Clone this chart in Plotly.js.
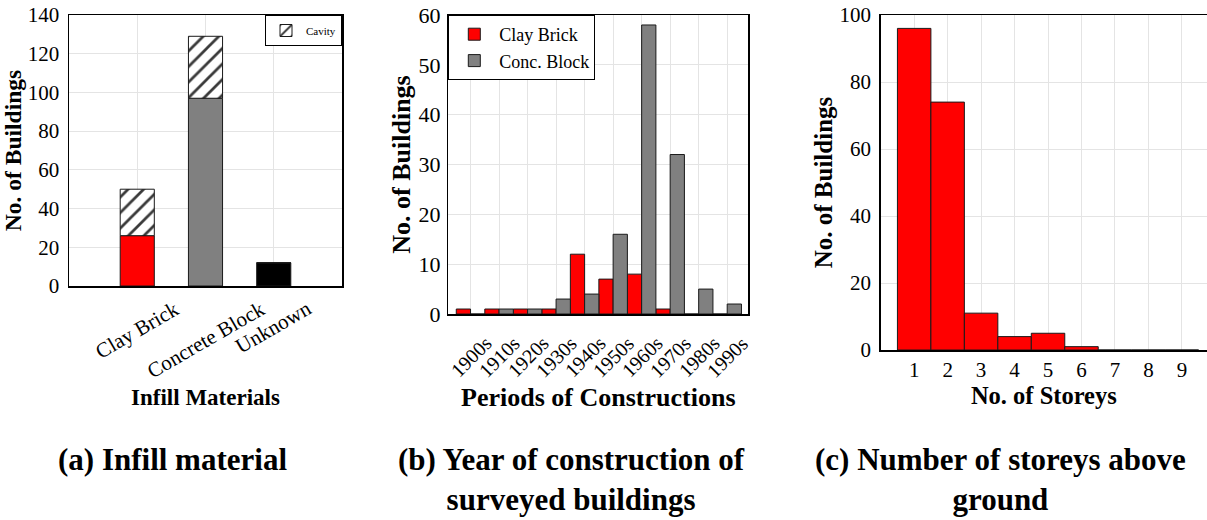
<!DOCTYPE html>
<html>
<head>
<meta charset="utf-8">
<script src="https://cdn.plot.ly/plotly-3.0.1.min.js"></script>
<style>
html,body{margin:0;padding:0;background:#ffffff;overflow:hidden}
#chart{width:1207px;height:520px}
</style>
</head>
<body>
<div id="chart"></div>
<script>
// ---------- Panel (a): infill material ----------
const infillCategories = ['Clay Brick', 'Concrete Block', 'Unknown'];
const infillSolid = [26, 97, 12];
const infillCavity = [24, 32, 0];
const infillColors = ['#ff0000', '#808080', '#000000'];
const cavityName = 'Cavity';

// ---------- Panel (b): period of construction ----------
const periods = ['1900s', '1910s', '1920s', '1930s', '1940s', '1950s', '1960s', '1970s', '1980s', '1990s'];
const clayBrickByPeriod = [1, 1, 1, 1, 12, 7, 8, 1, 0, 0];
const concBlockByPeriod = [0, 1, 1, 3, 4, 16, 58, 32, 5, 2];
const periodSeriesNames = ['Clay Brick', 'Conc. Block'];

// ---------- Panel (c): number of storeys ----------
const storeys = [1, 2, 3, 4, 5, 6, 7, 8, 9];
const buildingsByStoreys = [96, 74, 11, 4, 5, 1, 0, 0, 0];

// ---------- Captions ----------
const captions = [
  '(a) Infill material',
  '(b) Year of construction of<br>surveyed buildings',
  '(c) Number of storeys above<br>ground'
];

const FONT = 'Liberation Serif, "Times New Roman", Times, serif';
const W = 1207, H = 520;
const px = v => v / W;
const py = v => 1 - v / H;
const edge = {color: '#1a1a1a', width: 1};

const traces = [
  {
    type: 'bar', x: infillCategories, y: infillSolid, xaxis: 'x', yaxis: 'y',
    width: 0.5, offset: -0.25, showlegend: false,
    marker: {color: infillColors, line: edge}
  },
  {
    type: 'bar', x: infillCategories, y: infillCavity, base: infillSolid, xaxis: 'x', yaxis: 'y',
    width: 0.5, offset: -0.25, name: cavityName, legend: 'legend2',
    marker: {color: '#ffffff', line: edge,
      pattern: {shape: '/', fgcolor: '#3a3a3a', bgcolor: '#ffffff', size: 11, solidity: 0.25}}
  },
  {
    type: 'bar', x: periods, y: clayBrickByPeriod, xaxis: 'x2', yaxis: 'y2',
    width: 0.5, offset: -0.5, name: periodSeriesNames[0], legend: 'legend',
    marker: {color: '#ff0000', line: edge}
  },
  {
    type: 'bar', x: periods, y: concBlockByPeriod, xaxis: 'x2', yaxis: 'y2',
    width: 0.5, offset: 0, name: periodSeriesNames[1], legend: 'legend',
    marker: {color: '#808080', line: edge}
  },
  {
    type: 'bar', x: storeys, y: buildingsByStoreys, xaxis: 'x3', yaxis: 'y3',
    width: 1, offset: -0.5, showlegend: false,
    marker: {color: '#ff0000', line: edge}
  }
];

function axisBase(extra) {
  return Object.assign({
    showline: true, linecolor: '#000000', linewidth: 1.5, mirror: true,
    showgrid: true, gridcolor: '#e4e4e4', gridwidth: 1,
    zeroline: false, ticks: '', ticklabelstandoff: 4,
    tickfont: {family: FONT, size: 21, color: '#000000'},
    fixedrange: true
  }, extra);
}
function boldTitle(text, size, standoff) {
  return {text: text, font: {family: FONT, size: size, color: '#000000', weight: 'bold'}, standoff: standoff};
}

const annotations = [];
infillCategories.forEach(c => annotations.push({
  xref: 'x', yref: 'y domain', x: c, y: -0.028, text: c, textangle: -30,
  xanchor: 'center', yanchor: 'top', showarrow: false,
  font: {family: FONT, size: 21, color: '#000000'}
}));
periods.forEach(p => annotations.push({
  xref: 'x2', yref: 'y2 domain', x: p, y: -0.05, text: p, textangle: -45,
  xanchor: 'center', yanchor: 'top', showarrow: false,
  font: {family: FONT, size: 20, color: '#000000'}
}));
const captionX = [172, 571, 1000];
captions.forEach((t, i) => annotations.push({
  xref: 'paper', yref: 'paper', x: px(captionX[i]), y: py(441), text: t,
  xanchor: 'center', yanchor: 'top', align: 'center', showarrow: false, borderpad: 0,
  font: {family: FONT, size: 31, color: '#000000', weight: 'bold'}
}));

const layout = {
  width: W, height: H,
  margin: {l: 0, r: 0, t: 0, b: 0, pad: 0},
  paper_bgcolor: '#ffffff', plot_bgcolor: '#ffffff',
  font: {family: FONT, color: '#000000'},
  barmode: 'overlay', bargap: 0,
  xaxis: axisBase({domain: [px(69), px(342)], anchor: 'y', type: 'category', range: [-1, 3],
    showticklabels: false, title: boldTitle('Infill Materials', 23, 102)}),
  yaxis: axisBase({domain: [py(286), py(15)], anchor: 'x', range: [0, 140], dtick: 20,
    title: boldTitle('No. of Buildings', 23.5, 5)}),
  xaxis2: axisBase({domain: [px(448.3), px(748.3)], anchor: 'y2', type: 'category', range: [-0.78, 9.74],
    showticklabels: false, title: boldTitle('Periods of Constructions', 26, 73)}),
  yaxis2: axisBase({domain: [py(314), py(15)], anchor: 'x2', range: [0, 60], dtick: 10, ticklabelstandoff: 2,
    tickfont: {family: FONT, size: 22, color: '#000000'},
    title: boldTitle('No. of Buildings', 26, 0)}),
  xaxis3: axisBase({domain: [px(880.7), 1], anchor: 'y3', range: [0, 9.75], tickvals: storeys,
    ticklabelstandoff: 0, title: boldTitle('No. of Storeys', 24.5, 6)}),
  yaxis3: axisBase({domain: [py(350), py(15)], anchor: 'x3', range: [0, 100], dtick: 20, mirror: false,
    title: boldTitle('No. of Buildings', 25, 0)}),
  legend: {x: px(448.3), y: py(15), xanchor: 'left', yanchor: 'top', xref: 'paper', yref: 'paper',
    bgcolor: '#ffffff', bordercolor: '#000000', borderwidth: 1,
    font: {family: FONT, size: 18, color: '#000000'}, tracegroupgap: 0, itemwidth: 40},
  legend2: {x: px(342), y: py(15), xanchor: 'right', yanchor: 'top', xref: 'paper', yref: 'paper',
    bgcolor: '#ffffff', bordercolor: '#000000', borderwidth: 1,
    font: {family: FONT, size: 11, color: '#000000'}, itemwidth: 30},
  annotations: annotations,
  showlegend: true
};

Plotly.newPlot('chart', traces, layout, {displayModeBar: false, staticPlot: true});
</script>
</body>
</html>
